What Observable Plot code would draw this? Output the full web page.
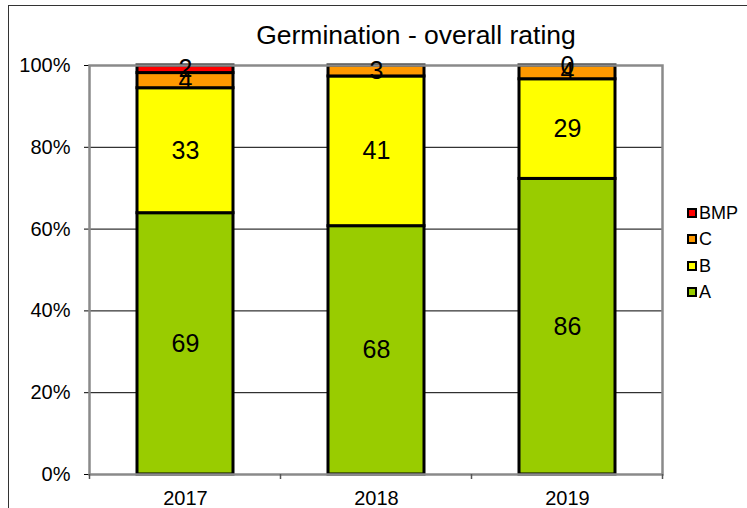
<!DOCTYPE html>
<html>
<head>
<meta charset="utf-8">
<script src="https://cdn.jsdelivr.net/npm/d3@7"></script>
<script src="https://cdn.jsdelivr.net/npm/@observablehq/plot@0.6"></script>
<style>
  html, body { margin: 0; padding: 0; background: #fff; }
  #wrap { position: relative; width: 747px; height: 508px; overflow: hidden; font-family: "Liberation Sans", Arial, sans-serif; }
  #outer { position: absolute; left: 8px; top: 5px; width: 800px; height: 600px; border-left: 1.5px solid #333; border-top: 1.5px solid #333; box-sizing: border-box; }
  #title { position: absolute; left: 416px; top: 22px; transform: translateX(-50%); font-size: 26.5px; line-height: 26px; white-space: nowrap; color: #000; }
  #legend { position: absolute; left: 687px; top: 200px; font-size: 18px; color: #000; }
  .row { height: 26.3px; line-height: 26.3px; display: flex; align-items: center; }
  .sw { width: 6px; height: 6px; border: 2px solid #000; margin-right: 2px; }
  svg { position: absolute; left: 0; top: 0; }
</style>
</head>
<body>
<div id="wrap">
  <div id="outer"></div>
  <div id="title">Germination - overall rating</div>
  <div id="legend"></div>
</div>
<script>
const years = ["2017", "2018", "2019"];
const ratings = ["A", "B", "C", "BMP"];
const valuesA = [69, 68, 86];
const valuesB = [33, 41, 29];
const valuesC = [4, 3, 4];
const valuesBMP = [2, null, 0];
const colors = ["#99CC00", "#FFFF00", "#FF9900", "#FF0000"];
const yTicks = [0, 0.2, 0.4, 0.6, 0.8, 1];
const gridTicks = [0.2, 0.4, 0.6, 0.8];

const series = [valuesA, valuesB, valuesC, valuesBMP];
const table = [];
years.forEach((yr, i) => {
  ratings.forEach((r, j) => {
    const v = series[j][i];
    if (v !== null) table.push({year: yr, rating: r, value: v});
  });
});

const chart = Plot.plot({
  width: 747,
  height: 508,
  marginTop: 65,
  marginBottom: 34,
  marginLeft: 89,
  marginRight: 85,
  style: {fontFamily: "'Liberation Sans', Arial, sans-serif", fontSize: "20px", background: "transparent", color: "#000"},
  x: {domain: years, paddingInner: 0.5, paddingOuter: 0.25, tickSize: 0, tickPadding: 16, label: null},
  y: {domain: [0, 1], ticks: yTicks, tickFormat: d3.format(".0%"), tickSize: 5, tickPadding: 14, label: null},
  color: {domain: ratings, range: colors},
  marks: [
    Plot.ruleY(gridTicks, {stroke: "#000", strokeWidth: 1}),
    Plot.barY(table, Plot.stackY({offset: "normalize", x: "year", y: "value", fill: "rating", stroke: "#000", strokeWidth: 3})),
    Plot.frame({stroke: "#8a8a8a", strokeWidth: 2.5}),
    Plot.text(table, Plot.stackY({offset: "normalize", x: "year", y: "value", text: d => String(d.value), fontSize: 25, fill: "#000"}))
  ]
});

// category boundary ticks from the x band scale
const xs = chart.scale("x");
const ys = chart.scale("y");
const y0 = ys.apply(0);
const bounds = [];
years.forEach((yr, i) => {
  const c = xs.apply(yr) + xs.bandwidth / 2;
  if (i === 0) bounds.push(c - xs.step / 2);
  bounds.push(c + xs.step / 2);
});
const g = d3.select(chart).append("g");
g.selectAll("line").data(bounds).join("line")
  .attr("x1", d => d).attr("x2", d => d)
  .attr("y1", y0).attr("y2", y0 + 5)
  .attr("stroke", "#555").attr("stroke-width", 1.5);

document.getElementById("wrap").appendChild(chart);

// legend
const legend = document.getElementById("legend");
ratings.slice().reverse().forEach(r => {
  const row = document.createElement("div");
  row.className = "row";
  const sw = document.createElement("span");
  sw.className = "sw";
  sw.style.background = colors[ratings.indexOf(r)];
  const t = document.createElement("span");
  t.textContent = r;
  row.appendChild(sw);
  row.appendChild(t);
  legend.appendChild(row);
});
</script>
</body>
</html>
